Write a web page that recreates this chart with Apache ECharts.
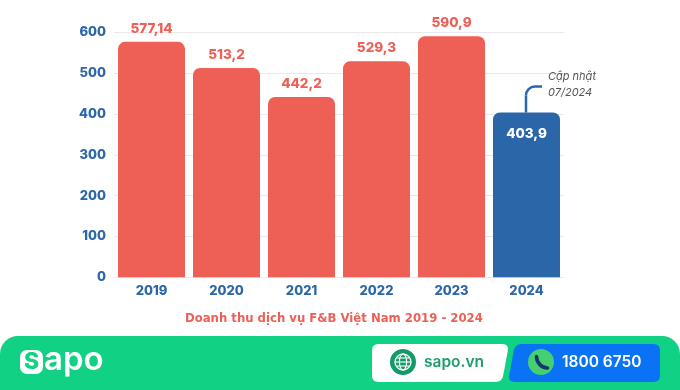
<!DOCTYPE html>
<html><head><meta charset="utf-8">
<style>html,body{margin:0;padding:0;background:#fff}#c{width:680px;height:390px}</style>
<script src="https://cdn.jsdelivr.net/npm/echarts@6/dist/echarts.min.js"></script>
</head><body><div id="c"></div>
<script>
const categories = ['2019','2020','2021','2022','2023','2024'];
const revenue = [577.14,513.2,442.2,529.3,590.9,403.9];
const valueLabels = ['577,14','513,2','442,2','529,3','590,9','403,9'];
const chartTitle = 'Doanh thu dịch vụ F&B Việt Nam 2019 - 2024';
const noteLines = 'Cập nhật\n07/2024';
const RED='#ee5f55', BLUE='#2b66a9', GREEN='#10d184';
const FONT='Inter, "Open Sans", sans-serif';
const chart = echarts.init(document.getElementById('c'),null,{renderer:'canvas'});
const seriesData = revenue.map((v,i)=>{
  const last = i===revenue.length-1;
  return {value:v,itemStyle:{color:last?BLUE:RED},
    label:{show:true,position:last?'insideTop':'top',distance:last?14:6,
      color:last?'#fff':RED,fontSize:13.5,fontWeight:800,fontFamily:FONT,
      formatter:()=>valueLabels[i]}};
});
chart.setOption({
  animation:false,
  title:{text:chartTitle,left:180,top:308,
    textStyle:{color:RED,fontSize:11.7,fontWeight:700,fontFamily:'"DejaVu Sans", sans-serif'}},
  grid:{left:114,width:450,top:32.5,height:244.8,containLabel:false},
  xAxis:{type:'category',data:categories,axisLine:{show:false},axisTick:{show:false},
    axisLabel:{color:BLUE,fontSize:13,fontWeight:800,fontFamily:FONT,margin:7}},
  yAxis:{type:'value',min:0,max:600,interval:100,axisLine:{show:false},axisTick:{show:false},
    splitLine:{lineStyle:{color:'#e9e9e9',width:1}},
    axisLabel:{color:BLUE,fontSize:13,fontWeight:800,fontFamily:FONT,margin:8}},
  series:[{type:'bar',data:seriesData,barWidth:67,itemStyle:{borderRadius:[7,7,0,0]}}]
});
// rounded polygon helper for the footer's decorative pills
function rounded(pts,r){
  const out=[];
  pts.forEach((p,i)=>{
    const a=pts[(i+pts.length-1)%pts.length], b=pts[(i+1)%pts.length];
    const la=Math.hypot(a[0]-p[0],a[1]-p[1]), lb=Math.hypot(b[0]-p[0],b[1]-p[1]);
    const s=[p[0]+(a[0]-p[0])*r/la,p[1]+(a[1]-p[1])*r/la], e=[p[0]+(b[0]-p[0])*r/lb,p[1]+(b[1]-p[1])*r/lb];
    for(let k=0;k<=6;k++){const t=k/6,u=1-t;
      out.push([u*u*s[0]+2*u*t*p[0]+t*t*e[0],u*u*s[1]+2*u*t*p[1]+t*t*e[1]]);}
  });
  return out;
}
const top2024 = chart.convertToPixel({seriesIndex:0},[5,revenue[5]]);
const lx = top2024[0]-0.5, ly = top2024[1];
chart.setOption({graphic:[
  {type:'line',shape:{x1:lx,y1:ly,x2:lx,y2:ly-17},style:{stroke:BLUE,lineWidth:2.5},z:5},
  {type:'arc',shape:{cx:lx+9,cy:ly-17,r:9,startAngle:Math.PI,endAngle:1.5*Math.PI,clockwise:true},style:{stroke:BLUE,lineWidth:2.5,fill:null},z:5},
  {type:'line',shape:{x1:lx+9,y1:ly-26,x2:lx+16,y2:ly-26},style:{stroke:BLUE,lineWidth:2.5},z:5},
  {type:'text',x:548,y:69,style:{text:noteLines,fill:'#555',font:'italic 400 11px '+FONT,lineHeight:16},z:5},
  {type:'rect',shape:{x:0,y:336,width:680,height:54,r:[18,18,0,0]},style:{fill:GREEN},z:6},
  {type:'rect',shape:{x:20,y:350,width:23,height:24,r:7},style:{fill:'#fff'},z:7},
  {type:'text',x:31.5,y:362,style:{text:'S',fill:GREEN,font:'800 23px '+FONT,align:'center',verticalAlign:'middle'},z:8},
  {type:'text',x:44,y:360,style:{text:'apo',fill:'#fff',font:'600 33px '+FONT,verticalAlign:'middle'},z:8},
  {type:'polygon',shape:{points:rounded([[372,344],[509,344],[502,382],[372,382]],7)},style:{fill:'#fff'},z:7},
  {type:'circle',shape:{cx:403,cy:362,r:13},style:{fill:'#139a66'},z:8},
  {type:'circle',shape:{cx:403,cy:362,r:8},style:{fill:null,stroke:'#fff',lineWidth:1.3},z:9},
  {type:'ellipse',shape:{cx:403,cy:362,rx:3.6,ry:8},style:{fill:null,stroke:'#fff',lineWidth:1.2},z:9},
  {type:'line',shape:{x1:395,y1:362,x2:411,y2:362},style:{stroke:'#fff',lineWidth:1.1},z:9},
  {type:'line',shape:{x1:396.5,y1:358,x2:409.5,y2:358},style:{stroke:'#fff',lineWidth:1.1},z:9},
  {type:'line',shape:{x1:396.5,y1:366,x2:409.5,y2:366},style:{stroke:'#fff',lineWidth:1.1},z:9},
  {type:'text',x:424,y:362,style:{text:'sapo.vn',fill:'#1f9b6c',font:'600 15.5px '+FONT,verticalAlign:'middle'},z:9},
  {type:'polygon',shape:{points:rounded([[515,344],[660,344],[660,382],[508,382]],7)},style:{fill:'#0a72f5'},z:7},
  {type:'circle',shape:{cx:541,cy:362,r:13},style:{fill:'#43cf72'},z:8},
  {type:'bezierCurve',shape:{x1:536.5,y1:356.5,cpx1:536.5,cpy1:362,cpx2:541,cpy2:368,x2:547.5,y2:368},style:{stroke:'#12386b',lineWidth:3.6,fill:null,lineCap:'round'},z:9},
  {type:'text',x:562,y:362,style:{text:'1800 6750',fill:'#fff',font:'600 15.5px '+FONT,verticalAlign:'middle'},z:9}
]});
</script></body></html>
